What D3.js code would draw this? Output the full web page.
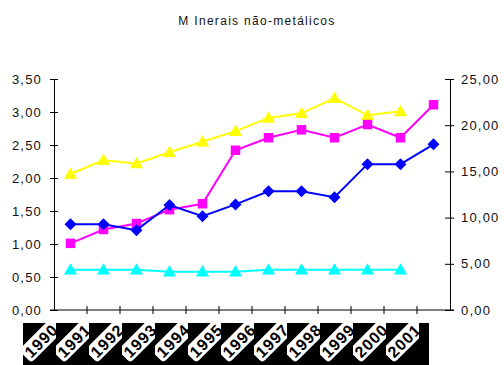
<!DOCTYPE html>
<html>
<head>
<meta charset="utf-8">
<script src="https://cdn.jsdelivr.net/npm/d3@7"></script>
<style>
  html, body { margin: 0; padding: 0; background: #fff; }
  svg { display: block; }
  text { font-family: "Liberation Sans", Arial, sans-serif; }
</style>
</head>
<body>
<svg id="chart" width="504" height="365"></svg>
<script>
// Categories (years) and series values
const years = ["1990", "1991", "1992", "1993", "1994", "1995", "1996", "1997", "1998", "1999", "2000", "2001"];
const seriesYellow = [2.06, 2.27, 2.22, 2.39, 2.55, 2.71, 2.91, 2.98, 3.21, 2.95, 3.01, null];
const seriesMagenta = [1.01, 1.22, 1.31, 1.52, 1.61, 2.42, 2.61, 2.73, 2.61, 2.81, 2.61, 3.11];
const seriesBlue = [1.30, 1.30, 1.21, 1.59, 1.42, 1.60, 1.80, 1.80, 1.71, 2.21, 2.21, 2.51];
const seriesCyan = [0.61, 0.61, 0.61, 0.58, 0.58, 0.58, 0.61, 0.61, 0.61, 0.61, 0.61, null];
const leftTicks = [0, 0.5, 1, 1.5, 2, 2.5, 3, 3.5];
const rightTicks = [0, 5, 10, 15, 20, 25];
const title = "M Inerais não-metálicos";

const svg = d3.select("#chart");
const plot = { left: 54, right: 450, top: 79, bottom: 310 };

const x = d3.scaleBand().domain(years).range([plot.left, plot.right]).padding(0);
const yL = d3.scaleLinear().domain([0, 3.5]).range([plot.bottom, plot.top]);
const yR = d3.scaleLinear().domain([0, 25]).range([plot.bottom, plot.top]);
const fmt = v => d3.format(".2f")(v).replace(".", ",");

// Title
svg.append("text")
  .attr("x", 257).attr("y", 25)
  .attr("text-anchor", "middle")
  .attr("font-size", 12)
  .attr("letter-spacing", "1.3px")
  .attr("fill", "#111")
  .text(title);

// Left axis
const leftAxis = d3.axisLeft(yL).tickValues(leftTicks).tickFormat(fmt).tickSizeInner(4).tickSizeOuter(0);
const gL = svg.append("g").attr("transform", `translate(${plot.left},0)`).call(leftAxis);
gL.selectAll(".tick line").attr("x2", -4).attr("x1", 4);
gL.selectAll(".tick text").attr("x", -12).attr("font-size", 13).attr("letter-spacing", "1.2px")
  .attr("font-family", "Liberation Sans, Arial, sans-serif").attr("fill", "#111");

// Right axis
const rightAxis = d3.axisRight(yR).tickValues(rightTicks).tickFormat(fmt).tickSizeInner(4).tickSizeOuter(0);
const gR = svg.append("g").attr("transform", `translate(${plot.right},0)`).call(rightAxis);
gR.selectAll(".tick line").attr("x1", -5).attr("x2", 4);
gR.selectAll(".tick text").attr("x", 11).attr("font-size", 13).attr("letter-spacing", "1.2px")
  .attr("font-family", "Liberation Sans, Arial, sans-serif").attr("fill", "#111");

// Bottom axis with ticks at category boundaries
const gB = svg.append("g").attr("transform", `translate(0,${plot.bottom})`);
gB.append("line").attr("x1", plot.left - 4).attr("x2", plot.right + 4).attr("stroke", "#000");
gB.selectAll("line.tk").data(years.slice(1)).join("line")
  .attr("class", "tk")
  .attr("x1", d => x(d)).attr("x2", d => x(d))
  .attr("y1", -4).attr("y2", 4).attr("stroke", "#000");

[gL, gR].forEach(g => g.select(".domain").attr("stroke", "#000"));
svg.selectAll(".tick line").attr("stroke", "#000");

// Category labels: black strip, each cell holding a rotated white tag clipped to the cell
const labelTop = 323, labelH = 42, shift = 31;
const stripX = x(years[0]) - shift;
const stripW = x.bandwidth() * years.length + 10;
const bw = x.bandwidth();
const strip = svg.append("g");
strip.append("rect")
  .attr("x", stripX).attr("y", labelTop)
  .attr("width", stripW).attr("height", labelH)
  .attr("fill", "#000");
const defs = svg.append("defs");
years.forEach((d, i) => {
  defs.append("clipPath").attr("id", "cell" + i)
    .append("rect")
    .attr("x", x(d) - shift).attr("y", labelTop)
    .attr("width", bw).attr("height", labelH);
});
const cells = strip.selectAll("g.cell").data(years).join("g")
  .attr("class", "cell")
  .attr("clip-path", (d, i) => `url(#cell${i})`);
const tags = cells.append("g")
  .attr("transform", d => `translate(${x(d) - shift + bw / 2 + 1},${labelTop + 18}) rotate(-45)`);
tags.append("rect")
  .attr("x", -22).attr("y", -9).attr("width", 52).attr("height", 18)
  .attr("rx", 4)
  .attr("fill", "#fff");
tags.append("text")
  .attr("x", -19).attr("y", 6)
  .attr("font-size", 16).attr("font-weight", "bold")
  .attr("letter-spacing", "1px")
  .attr("fill", "#000")
  .text(d => d);

// Series
const series = [
  { values: seriesCyan, color: "#00FFFF", marker: "triangle", width: 2 },
  { values: seriesYellow, color: "#FFFF00", marker: "triangle", width: 2 },
  { values: seriesMagenta, color: "#FF00FF", marker: "square", width: 2 },
  { values: seriesBlue, color: "#0000FF", marker: "diamond", width: 2 }
];
const cx = d => x(d) + x.bandwidth() / 2;
const line = d3.line().defined(d => d.v != null).x(d => cx(d.year)).y(d => yL(d.v));
const symbols = {
  triangle: d3.symbol().type(d3.symbolTriangle).size(75),
  square: d3.symbol().type(d3.symbolSquare).size(90),
  diamond: d3.symbol().type(d3.symbolSquare).size(72)
};

series.forEach(s => {
  const pts = years.map((year, i) => ({ year, v: s.values[i] }));
  svg.append("path").datum(pts)
    .attr("d", line)
    .attr("fill", "none")
    .attr("stroke", s.color)
    .attr("stroke-width", s.width);
  svg.append("g").selectAll("path").data(pts.filter(p => p.v != null)).join("path")
    .attr("transform", p => {
      const t = `translate(${cx(p.year)},${yL(p.v) + (s.marker === "triangle" ? 1 : 0)})`;
      return s.marker === "diamond" ? t + " rotate(45)" : t;
    })
    .attr("d", symbols[s.marker])
    .attr("fill", s.color);
});
</script>
</body>
</html>
